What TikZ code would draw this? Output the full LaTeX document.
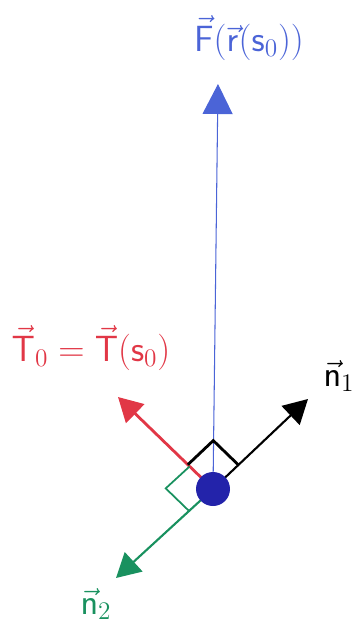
\documentclass[tikz,border=0pt]{standalone}
\usepackage{amsmath}
\usepackage{amssymb}
\usepackage{tikz}
\usetikzlibrary{
  angles,       % 直角标记
  arrows.meta,  % Triangle 箭头
  positioning   % 节点相对定位
}
\definecolor{penblue}{RGB}{75,100,215}
\definecolor{penred}{RGB}{225,55,70}
\definecolor{pengreen}{RGB}{25,145,95}
\definecolor{inkdot}{RGB}{35,35,170}

\begin{document}
\begin{tikzpicture}[x=0.2mm, y=-0.2mm, line width=1pt, >={Triangle[length=4.8mm,width=5.2mm]}] % 以像素为单位，y 轴向下

  \useasboundingbox (0,0) rectangle (358,628); % 固定画幅

  % ======= 曲线上的点与各向量终点 =======
  \coordinate (P) at (213,489); % 曲线上的点 r(s0)
  \coordinate (Ftip) at (218,84); % 力 F 的终点，竖直向上
  \coordinate (Ttip) at (118,397); % 切向量 T0 的终点，左上
  \coordinate (Atip) at (308,399); % 法向量 n1 的终点，右上
  \coordinate (Btip) at (116,578); % 法向量 n2 的终点，左下

  % 画向量
  \draw[-{Triangle[length=6mm,width=6mm]}, penblue, line width=0.6pt] (P) -- (Ftip); % 蓝色细线表示 F，箭头稍大
  \draw[->, penred, line width=1.6pt] (P) -- (Ttip); % 红色切向量
  \draw[->, black, line width=1.2pt] (P) -- (Atip); % 黑色 n1
  \draw[->, pengreen, line width=1.2pt] (P) -- (Btip); % 绿色 n2

  % 直角标记
  \pic [draw, black, line width=1.6pt, angle radius=7mm] {right angle = Ttip--P--Atip}; % T0 与 n1 垂直
  \pic [draw, pengreen, line width=1pt, angle radius=6.5mm] {right angle = Btip--P--Ttip}; % T0 与 n2 垂直

  % 点
  \node[circle, fill=inkdot, minimum size=6.8mm, inner sep=0pt] (dot) at (P) {}; % 深蓝色圆点

  % ====== 文字 ======
  \node[penblue, font=\huge] (Flab) at (249,38) {$\vec{\mathsf{F}}(\vec{\mathsf{r}}(\mathsf{s}_0))$}; % 顶部标注 F(r(s0))
  \node[penred, font=\huge] (Tlab) at (91,348) {$\vec{\mathsf{T}}_0=\vec{\mathsf{T}}(\mathsf{s}_0)$}; % 切向量标注
  \node[black, font=\huge] (Alab) at (339,376) {$\vec{\mathsf{n}}_1$}; % n1 标注
  \node[pengreen, font=\huge] (Blab) at (96,604) {$\vec{\mathsf{n}}_2$}; % n2 标注

\end{tikzpicture}
\end{document}
